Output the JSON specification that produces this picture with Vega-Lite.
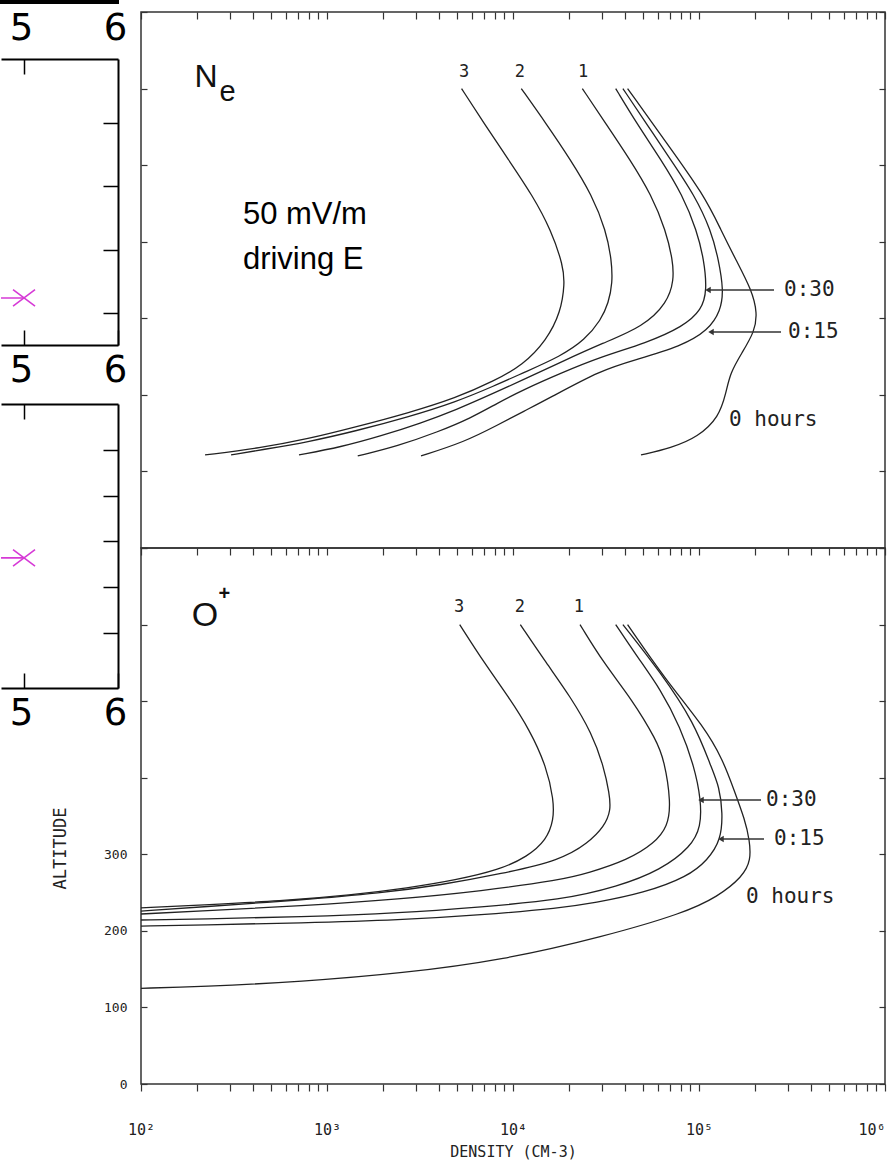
{
  "$schema": "https://vega.github.io/schema/vega-lite/v6.json",
  "padding": 0,
  "bounds": "flush",
  "spacing": 140,
  "config": {
    "font": "DejaVu Sans",
    "view": {"stroke": "#333", "strokeWidth": 1.5},
    "axis": {"grid": false, "domain": false, "tickColor": "#333", "tickWidth": 1.2, "labelFont": "DejaVu Sans Mono", "titleFont": "DejaVu Sans Mono", "labelColor": "#222", "titleColor": "#222", "titleFontWeight": "normal"}
  },
  "datasets": {
    "ne": [
      {"t": "3", "n": 5290, "alt": 600}, {"t": "3", "n": 7030, "alt": 553.6}, {"t": "3", "n": 9450, "alt": 507.2}, {"t": "3", "n": 12690, "alt": 461}, {"t": "3", "n": 16070, "alt": 414.6}, {"t": "3", "n": 18620, "alt": 368.3}, {"t": "3", "n": 18970, "alt": 345.2}, {"t": "3", "n": 18070, "alt": 308.2}, {"t": "3", "n": 15140, "alt": 271.1}, {"t": "3", "n": 11280, "alt": 238.7}, {"t": "3", "n": 7905, "alt": 218.1}, {"t": "3", "n": 4932, "alt": 195.9}, {"t": "3", "n": 2733, "alt": 176.3}, {"t": "3", "n": 1427, "alt": 158}, {"t": "3", "n": 790, "alt": 142.4}, {"t": "3", "n": 438, "alt": 130.6}, {"t": "3", "n": 221, "alt": 121.5},
      {"t": "2", "n": 11080, "alt": 600}, {"t": "2", "n": 15140, "alt": 553.6}, {"t": "2", "n": 20360, "alt": 507.2}, {"t": "2", "n": 26560, "alt": 461}, {"t": "2", "n": 31620, "alt": 414.6}, {"t": "2", "n": 33900, "alt": 376.1}, {"t": "2", "n": 34300, "alt": 346}, {"t": "2", "n": 32600, "alt": 320}, {"t": "2", "n": 29730, "alt": 297.8}, {"t": "2", "n": 24300, "alt": 271.6}, {"t": "2", "n": 18120, "alt": 250.7}, {"t": "2", "n": 11280, "alt": 228.5}, {"t": "2", "n": 7905, "alt": 211.6}, {"t": "2", "n": 4932, "alt": 190.7}, {"t": "2", "n": 2733, "alt": 171.1}, {"t": "2", "n": 1427, "alt": 152.8}, {"t": "2", "n": 790, "alt": 138.4}, {"t": "2", "n": 438, "alt": 128}, {"t": "2", "n": 305, "alt": 121.5},
      {"t": "1", "n": 23590, "alt": 600}, {"t": "1", "n": 31700, "alt": 553.6}, {"t": "1", "n": 42560, "alt": 507.2}, {"t": "1", "n": 55540, "alt": 461}, {"t": "1", "n": 66310, "alt": 414.6}, {"t": "1", "n": 72220, "alt": 376.1}, {"t": "1", "n": 73390, "alt": 350}, {"t": "1", "n": 67500, "alt": 320}, {"t": "1", "n": 50000, "alt": 289}, {"t": "1", "n": 30500, "alt": 267.7}, {"t": "1", "n": 18120, "alt": 242.9}, {"t": "1", "n": 11280, "alt": 219.4}, {"t": "1", "n": 7905, "alt": 202.4}, {"t": "1", "n": 4932, "alt": 180.2}, {"t": "1", "n": 3202, "alt": 163.2}, {"t": "1", "n": 1951, "alt": 146.3}, {"t": "1", "n": 1189, "alt": 131.9}, {"t": "1", "n": 707, "alt": 121.5},
      {"t": "0:30", "n": 35660, "alt": 600}, {"t": "0:30", "n": 46530, "alt": 553.6}, {"t": "0:30", "n": 62480, "alt": 507.2}, {"t": "0:30", "n": 81540, "alt": 461}, {"t": "0:30", "n": 97320, "alt": 414.6}, {"t": "0:30", "n": 106400, "alt": 376.1}, {"t": "0:30", "n": 110400, "alt": 336.9}, {"t": "0:30", "n": 103500, "alt": 310.8}, {"t": "0:30", "n": 82000, "alt": 289}, {"t": "0:30", "n": 52000, "alt": 267.7}, {"t": "0:30", "n": 29730, "alt": 249.8}, {"t": "0:30", "n": 18120, "alt": 228.5}, {"t": "0:30", "n": 11280, "alt": 206.3}, {"t": "0:30", "n": 8276, "alt": 189.4}, {"t": "0:30", "n": 5946, "alt": 169.8}, {"t": "0:30", "n": 3938, "alt": 151.5}, {"t": "0:30", "n": 2399, "alt": 133.2}, {"t": "0:30", "n": 1463, "alt": 120.2},
      {"t": "0:15", "n": 38980, "alt": 600}, {"t": "0:15", "n": 52340, "alt": 553.6}, {"t": "0:15", "n": 70380, "alt": 507.2}, {"t": "0:15", "n": 94470, "alt": 461}, {"t": "0:15", "n": 116200, "alt": 414.6}, {"t": "0:15", "n": 127500, "alt": 376.1}, {"t": "0:15", "n": 135500, "alt": 336.9}, {"t": "0:15", "n": 131000, "alt": 310}, {"t": "0:15", "n": 112000, "alt": 284}, {"t": "0:15", "n": 80050, "alt": 263.5}, {"t": "0:15", "n": 46000, "alt": 246}, {"t": "0:15", "n": 29730, "alt": 232.5}, {"t": "0:15", "n": 15370, "alt": 194.6}, {"t": "0:15", "n": 11500, "alt": 178.9}, {"t": "0:15", "n": 8276, "alt": 160.6}, {"t": "0:15", "n": 5473, "alt": 138.4}, {"t": "0:15", "n": 3202, "alt": 120.2},
      {"t": "0", "n": 41310, "alt": 600}, {"t": "0", "n": 66310, "alt": 530.5}, {"t": "0", "n": 106400, "alt": 461}, {"t": "0", "n": 131300, "alt": 415.3}, {"t": "0", "n": 158000, "alt": 376.1}, {"t": "0", "n": 192000, "alt": 336.9}, {"t": "0", "n": 206000, "alt": 306.9}, {"t": "0", "n": 199000, "alt": 282.5}, {"t": "0", "n": 170000, "alt": 254.7}, {"t": "0", "n": 147000, "alt": 228.5}, {"t": "0", "n": 139700, "alt": 202.4}, {"t": "0", "n": 128100, "alt": 171.1}, {"t": "0", "n": 98770, "alt": 145}, {"t": "0", "n": 70730, "alt": 130.6}, {"t": "0", "n": 48770, "alt": 121.5}
    ],
    "op": [
      {"t": "3", "n": 5170, "alt": 600}, {"t": "3", "n": 7030, "alt": 549.4}, {"t": "3", "n": 9450, "alt": 505.8}, {"t": "3", "n": 12310, "alt": 462.3}, {"t": "3", "n": 15140, "alt": 414.4}, {"t": "3", "n": 16550, "alt": 370.9}, {"t": "3", "n": 16550, "alt": 344.8}, {"t": "3", "n": 15140, "alt": 318.7}, {"t": "3", "n": 11970, "alt": 296.9}, {"t": "3", "n": 8390, "alt": 279.5}, {"t": "3", "n": 4932, "alt": 266.4}, {"t": "3", "n": 2733, "alt": 256}, {"t": "3", "n": 1346, "alt": 246.8}, {"t": "3", "n": 566, "alt": 239}, {"t": "3", "n": 210, "alt": 233.8}, {"t": "3", "n": 100, "alt": 229.9},
      {"t": "2", "n": 10950, "alt": 600}, {"t": "2", "n": 15140, "alt": 549.4}, {"t": "2", "n": 20360, "alt": 505.8}, {"t": "2", "n": 26560, "alt": 458}, {"t": "2", "n": 30770, "alt": 414.4}, {"t": "2", "n": 32940, "alt": 379.6}, {"t": "2", "n": 33650, "alt": 357.8}, {"t": "2", "n": 30960, "alt": 336}, {"t": "2", "n": 25210, "alt": 314.3}, {"t": "2", "n": 18120, "alt": 292.5}, {"t": "2", "n": 8620, "alt": 274.3}, {"t": "2", "n": 4101, "alt": 259.9}, {"t": "2", "n": 1951, "alt": 249.4}, {"t": "2", "n": 725, "alt": 240.3}, {"t": "2", "n": 210, "alt": 231.2}, {"t": "2", "n": 100, "alt": 225.9},
      {"t": "1", "n": 22920, "alt": 600}, {"t": "1", "n": 30770, "alt": 549.4}, {"t": "1", "n": 43840, "alt": 501.5}, {"t": "1", "n": 58950, "alt": 449.3}, {"t": "1", "n": 65070, "alt": 423.1}, {"t": "1", "n": 70730, "alt": 367}, {"t": "1", "n": 67880, "alt": 336}, {"t": "1", "n": 57510, "alt": 314.3}, {"t": "1", "n": 41370, "alt": 292.5}, {"t": "1", "n": 25210, "alt": 275.2}, {"t": "1", "n": 18120, "alt": 266.4}, {"t": "1", "n": 6730, "alt": 252}, {"t": "1", "n": 2499, "alt": 241.6}, {"t": "1", "n": 725, "alt": 232.5}, {"t": "1", "n": 210, "alt": 225.9}, {"t": "1", "n": 100, "alt": 222},
      {"t": "0:30", "n": 35660, "alt": 600}, {"t": "0:30", "n": 46530, "alt": 558}, {"t": "0:30", "n": 62480, "alt": 514.6}, {"t": "0:30", "n": 79060, "alt": 466.6}, {"t": "0:30", "n": 94470, "alt": 414.4}, {"t": "0:30", "n": 102500, "alt": 370.9}, {"t": "0:30", "n": 102500, "alt": 336}, {"t": "0:30", "n": 90580, "alt": 309.9}, {"t": "0:30", "n": 62480, "alt": 279.5}, {"t": "0:30", "n": 36550, "alt": 257.7}, {"t": "0:30", "n": 18120, "alt": 240.3}, {"t": "0:30", "n": 6730, "alt": 231.2}, {"t": "0:30", "n": 2499, "alt": 223.3}, {"t": "0:30", "n": 725, "alt": 218.1}, {"t": "0:30", "n": 210, "alt": 215.5}, {"t": "0:30", "n": 100, "alt": 214.2},
      {"t": "0:15", "n": 38980, "alt": 600}, {"t": "0:15", "n": 62480, "alt": 536.8}, {"t": "0:15", "n": 94470, "alt": 471.5}, {"t": "0:15", "n": 116000, "alt": 414.4}, {"t": "0:15", "n": 128600, "alt": 388.3}, {"t": "0:15", "n": 134100, "alt": 353.9}, {"t": "0:15", "n": 131300, "alt": 318.7}, {"t": "0:15", "n": 111400, "alt": 292.5}, {"t": "0:15", "n": 86960, "alt": 270.7}, {"t": "0:15", "n": 50620, "alt": 249.4}, {"t": "0:15", "n": 27260, "alt": 236.4}, {"t": "0:15", "n": 18120, "alt": 229.9}, {"t": "0:15", "n": 6730, "alt": 220.7}, {"t": "0:15", "n": 2499, "alt": 214.2}, {"t": "0:15", "n": 725, "alt": 210.3}, {"t": "0:15", "n": 210, "alt": 207.7}, {"t": "0:15", "n": 100, "alt": 206.3},
      {"t": "0", "n": 41310, "alt": 600}, {"t": "0", "n": 66310, "alt": 527.6}, {"t": "0", "n": 106400, "alt": 466.6}, {"t": "0", "n": 134600, "alt": 423.1}, {"t": "0", "n": 154200, "alt": 384}, {"t": "0", "n": 176700, "alt": 344.8}, {"t": "0", "n": 186900, "alt": 318.7}, {"t": "0", "n": 190400, "alt": 292.5}, {"t": "0", "n": 171800, "alt": 270.7}, {"t": "0", "n": 126100, "alt": 244.6}, {"t": "0", "n": 83080, "alt": 223.3}, {"t": "0", "n": 30660, "alt": 192.4}, {"t": "0", "n": 8835, "alt": 161.9}, {"t": "0", "n": 2546, "alt": 144.6}, {"t": "0", "n": 734, "alt": 133.6}, {"t": "0", "n": 211, "alt": 127.1}, {"t": "0", "n": 100, "alt": 125}
    ],
    "nums": [
      {"p": "ne", "s": "3", "n": 5455, "alt": 621.6}, {"p": "ne", "s": "2", "n": 10900, "alt": 621.6}, {"p": "ne", "s": "1", "n": 23790, "alt": 621.6},
      {"p": "op", "s": "3", "n": 5125, "alt": 623}, {"p": "op", "s": "2", "n": 10900, "alt": 623}, {"p": "op", "s": "1", "n": 22630, "alt": 623}
    ],
    "tags": [
      {"p": "ne", "s": "0:30", "n": 286400, "alt": 336.9}, {"p": "ne", "s": "0:15", "n": 301000, "alt": 282.1}, {"p": "ne", "s": "0 hours", "n": 145000, "alt": 167.2},
      {"p": "op", "s": "0:30", "n": 229200, "alt": 370.9}, {"p": "op", "s": "0:15", "n": 253100, "alt": 320}, {"p": "op", "s": "0 hours", "n": 178900, "alt": 244.2}
    ],
    "arrows": [
      {"p": "ne", "n1": 111800, "n2": 253100, "alt": 336.9}, {"p": "ne", "n1": 116000, "n2": 276000, "alt": 282.1},
      {"p": "op", "n1": 102500, "n2": 215400, "alt": 370.9}, {"p": "op", "n1": 131300, "n2": 223700, "alt": 320}
    ],
    "sp": [
      {"p": "ne", "k": "main", "s": "N", "n": 224, "alt": 615}, {"p": "ne", "k": "sub", "s": "e", "n": 292, "alt": 595.5},
      {"p": "op", "k": "main", "s": "O", "n": 221, "alt": 611}, {"p": "op", "k": "sub", "s": "+", "n": 281, "alt": 640}
    ],
    "note": [
      {"s": "50 mV/m", "n": 353, "alt": 423}, {"s": "driving E", "n": 353, "alt": 364.4}
    ],
    "mag": [
      {"p": 1, "x0": 4, "x": 5, "y": 1.24}, {"p": 2, "x0": 4, "x": 5, "y": 2.64}
    ]
  },
  "hconcat": [
    {
      "bounds": "flush",
      "spacing": 56,
      "vconcat": [
        {
          "width": 117, "height": 2,
          "view": {"stroke": "black", "strokeWidth": 2},
          "data": {"name": "mag"},
          "transform": [{"filter": "datum.p == 1"}],
          "mark": {"type": "point", "opacity": 0, "size": 0, "strokeWidth": 0},
          "encoding": {
            "x": {"field": "x", "type": "quantitative", "scale": {"domain": [4.755, 6], "nice": false, "zero": false}, "axis": {"orient": "bottom", "values": [5, 6], "format": ".0f", "ticks": false, "labelFontSize": 37, "labelPadding": 7, "labelFont": "DejaVu Sans", "labelColor": "black", "labelFlush": false, "labelOffset": -3, "title": null, "domain": false}},
            "y": {"field": "y", "type": "quantitative", "scale": {"domain": [0.5, 5], "nice": false, "zero": false}, "axis": null}
          }
        },
        {
          "bounds": "flush",
          "spacing": 59,
          "vconcat": [
            {
              "width": 117, "height": 286,
              "view": {"stroke": null},
              "data": {"name": "mag"},
              "transform": [{"filter": "datum.p == 1"}],
              "layer": [
                {
                  "mark": {"type": "rule", "color": "#d63ad6", "strokeWidth": 1.6, "clip": true},
                  "encoding": {
                    "x": {"field": "x0", "type": "quantitative", "scale": {"domain": [4.755, 6], "nice": false, "zero": false}, "axis": {"orient": "bottom", "values": [5, 6], "format": ".0f", "tickSize": -15, "labelFontSize": 37, "labelPadding": 22, "labelFont": "DejaVu Sans", "labelColor": "black", "labelFlush": false, "labelOffset": -3, "title": null, "domain": true, "domainColor": "black", "domainWidth": 2, "tickColor": "black", "tickWidth": 1.5}},
                    "x2": {"field": "x"},
                    "y": {"field": "y", "type": "quantitative", "scale": {"domain": [0.5, 5], "nice": false, "zero": false}, "axis": {"orient": "right", "values": [1, 2, 3, 4], "tickSize": -15, "labels": false, "title": null, "domain": true, "domainColor": "black", "domainWidth": 2, "tickColor": "black", "tickWidth": 1.5}}
                  }
                },
                {
                  "mark": {"type": "point", "shape": "M-1,-0.75L1,0.75M-1,0.75L1,-0.75", "color": "#d63ad6", "strokeWidth": 1.6, "size": 484, "filled": false, "opacity": 1},
                  "encoding": {
                    "x": {"field": "x", "type": "quantitative", "scale": {"domain": [4.755, 6], "nice": false, "zero": false}, "axis": {"orient": "top", "values": [5], "tickSize": -15, "labels": false, "title": null, "domain": true, "domainColor": "black", "domainWidth": 2, "tickColor": "black", "tickWidth": 1.5}},
                    "y": {"field": "y", "type": "quantitative", "scale": {"domain": [0.5, 5], "nice": false, "zero": false}, "axis": null}
                  }
                }
              ],
              "resolve": {"axis": {"x": "independent", "y": "independent"}}
            },
            {
              "width": 117, "height": 284,
              "view": {"stroke": null},
              "data": {"name": "mag"},
              "transform": [{"filter": "datum.p == 2"}],
              "layer": [
                {
                  "mark": {"type": "rule", "color": "#d63ad6", "strokeWidth": 1.6, "clip": true},
                  "encoding": {
                    "x": {"field": "x0", "type": "quantitative", "scale": {"domain": [4.755, 6], "nice": false, "zero": false}, "axis": {"orient": "bottom", "values": [5, 6], "format": ".0f", "tickSize": -15, "labelFontSize": 37, "labelPadding": 22, "labelFont": "DejaVu Sans", "labelColor": "black", "labelFlush": false, "labelOffset": -3, "title": null, "domain": true, "domainColor": "black", "domainWidth": 2, "tickColor": "black", "tickWidth": 1.5}},
                    "x2": {"field": "x"},
                    "y": {"field": "y", "type": "quantitative", "scale": {"domain": [-0.2, 6], "nice": false, "zero": false}, "axis": {"orient": "right", "values": [1, 2, 3, 4, 5], "tickSize": -15, "labels": false, "title": null, "domain": true, "domainColor": "black", "domainWidth": 2, "tickColor": "black", "tickWidth": 1.5}}
                  }
                },
                {
                  "mark": {"type": "point", "shape": "M-1,-0.75L1,0.75M-1,0.75L1,-0.75", "color": "#d63ad6", "strokeWidth": 1.6, "size": 484, "filled": false, "opacity": 1},
                  "encoding": {
                    "x": {"field": "x", "type": "quantitative", "scale": {"domain": [4.755, 6], "nice": false, "zero": false}, "axis": {"orient": "top", "values": [5], "tickSize": -15, "labels": false, "title": null, "domain": true, "domainColor": "black", "domainWidth": 2, "tickColor": "black", "tickWidth": 1.5}},
                    "y": {"field": "y", "type": "quantitative", "scale": {"domain": [-0.2, 6], "nice": false, "zero": false}, "axis": null}
                  }
                }
              ],
              "resolve": {"axis": {"x": "independent", "y": "independent"}}
            }
          ]
        }
      ]
    },
    {
      "bounds": "flush",
      "spacing": 0,
      "vconcat": [
        {
          "width": 744, "height": 11,
          "view": {"stroke": null},
          "data": {"name": "mag"},
          "mark": {"type": "point", "opacity": 0, "size": 0, "strokeWidth": 0},
          "encoding": {
            "x": {"field": "x", "type": "quantitative", "scale": {"domain": [4.755, 6], "nice": false, "zero": false}, "axis": null},
            "y": {"field": "y", "type": "quantitative", "scale": {"domain": [-10, 10], "nice": false, "zero": false}, "axis": null}
          }
        },
        {
          "bounds": "flush",
          "spacing": 0,
          "vconcat": [
            {
              "width": 744, "height": 536,
              "layer": [
                {
                  "data": {"name": "ne"},
                  "mark": {"type": "line", "stroke": "#222", "strokeWidth": 1.3, "interpolate": "basis"},
                  "encoding": {
                    "x": {"field": "n", "type": "quantitative", "scale": {"type": "log", "domain": [100, 1000000], "nice": false}, "axis": {"orient": "top", "values": [100,200,300,400,500,600,700,800,900,1000,2000,3000,4000,5000,6000,7000,8000,9000,10000,20000,30000,40000,50000,60000,70000,80000,90000,100000,200000,300000,400000,500000,600000,700000,800000,900000,1000000], "labels": false, "tickSize": -7, "title": null}},
                    "y": {"field": "alt", "type": "quantitative", "scale": {"domain": [0, 700], "nice": false}, "axis": {"orient": "left", "values": [0,100,200,300,400,500,600,700], "labels": false, "tickSize": -6, "title": null}},
                    "detail": {"field": "t"},
                    "order": {"value": null}
                  }
                },
                {
                  "data": {"name": "tags"},
                  "transform": [{"filter": "datum.p == 'ne'"}],
                  "mark": {"type": "text", "align": "left", "baseline": "middle", "font": "DejaVu Sans Mono", "fontSize": 21, "fill": "#222"},
                  "encoding": {
                    "x": {"field": "n", "type": "quantitative", "scale": {"type": "log", "domain": [100, 1000000], "nice": false}, "axis": null},
                    "y": {"field": "alt", "type": "quantitative", "scale": {"domain": [0, 700], "nice": false}, "axis": {"orient": "right", "values": [0,100,200,300,400,500,600,700], "labels": false, "tickSize": -6, "title": null}},
                    "text": {"field": "s"}
                  }
                },
                {
                  "data": {"name": "arrows"},
                  "transform": [{"filter": "datum.p == 'ne'"}],
                  "mark": {"type": "rule", "stroke": "#333", "strokeWidth": 1.4},
                  "encoding": {
                    "x": {"field": "n1", "type": "quantitative", "scale": {"type": "log", "domain": [100, 1000000], "nice": false}, "axis": null},
                    "x2": {"field": "n2"},
                    "y": {"field": "alt", "type": "quantitative", "scale": {"domain": [0, 700], "nice": false}, "axis": null}
                  }
                },
                {
                  "data": {"name": "arrows"},
                  "transform": [{"filter": "datum.p == 'ne'"}],
                  "mark": {"type": "point", "shape": "triangle-left", "filled": true, "color": "#333", "size": 40, "opacity": 1},
                  "encoding": {
                    "x": {"field": "n1", "type": "quantitative", "scale": {"type": "log", "domain": [100, 1000000], "nice": false}, "axis": null},
                    "y": {"field": "alt", "type": "quantitative", "scale": {"domain": [0, 700], "nice": false}, "axis": null}
                  }
                },
                {
                  "data": {"name": "nums"},
                  "transform": [{"filter": "datum.p == 'ne'"}],
                  "mark": {"type": "text", "font": "DejaVu Sans Mono", "fontSize": 17, "fill": "#222", "baseline": "middle"},
                  "encoding": {
                    "x": {"field": "n", "type": "quantitative", "scale": {"type": "log", "domain": [100, 1000000], "nice": false}, "axis": null},
                    "y": {"field": "alt", "type": "quantitative", "scale": {"domain": [0, 700], "nice": false}, "axis": null},
                    "text": {"field": "s"}
                  }
                },
                {
                  "data": {"name": "sp"},
                  "transform": [{"filter": "datum.p == 'ne' && datum.k == 'main'"}],
                  "mark": {"type": "text", "font": "Liberation Sans", "fontSize": 32, "fill": "#111", "baseline": "middle"},
                  "encoding": {
                    "x": {"field": "n", "type": "quantitative", "scale": {"type": "log", "domain": [100, 1000000], "nice": false}, "axis": null},
                    "y": {"field": "alt", "type": "quantitative", "scale": {"domain": [0, 700], "nice": false}, "axis": null},
                    "text": {"field": "s"}
                  }
                },
                {
                  "data": {"name": "sp"},
                  "transform": [{"filter": "datum.p == 'ne' && datum.k == 'sub'"}],
                  "mark": {"type": "text", "font": "Liberation Sans", "fontSize": 29, "fill": "#111", "baseline": "middle"},
                  "encoding": {
                    "x": {"field": "n", "type": "quantitative", "scale": {"type": "log", "domain": [100, 1000000], "nice": false}, "axis": null},
                    "y": {"field": "alt", "type": "quantitative", "scale": {"domain": [0, 700], "nice": false}, "axis": null},
                    "text": {"field": "s"}
                  }
                },
                {
                  "data": {"name": "note"},
                  "mark": {"type": "text", "font": "Liberation Sans", "fontSize": 31, "fill": "black", "align": "left", "baseline": "alphabetic"},
                  "encoding": {
                    "x": {"field": "n", "type": "quantitative", "scale": {"type": "log", "domain": [100, 1000000], "nice": false}, "axis": null},
                    "y": {"field": "alt", "type": "quantitative", "scale": {"domain": [0, 700], "nice": false}, "axis": null},
                    "text": {"field": "s"}
                  }
                }
              ],
              "resolve": {"axis": {"x": "independent", "y": "independent"}}
            },
            {
              "width": 744, "height": 536,
              "layer": [
                {
                  "data": {"name": "op"},
                  "mark": {"type": "line", "stroke": "#222", "strokeWidth": 1.3, "interpolate": "basis"},
                  "encoding": {
                    "x": {"field": "n", "type": "quantitative", "scale": {"type": "log", "domain": [100, 1000000], "nice": false}, "axis": {"orient": "top", "values": [100,200,300,400,500,600,700,800,900,1000,2000,3000,4000,5000,6000,7000,8000,9000,10000,20000,30000,40000,50000,60000,70000,80000,90000,100000,200000,300000,400000,500000,600000,700000,800000,900000,1000000], "labels": false, "tickSize": -7, "title": null}},
                    "y": {"field": "alt", "type": "quantitative", "scale": {"domain": [0, 700], "nice": false}, "axis": {"orient": "left", "values": [0,100,200,300,400,500,600,700], "labelExpr": "datum.value <= 300 ? datum.label : ''", "tickSize": -6, "labelPadding": 20, "labelFontSize": 13, "title": "ALTITUDE", "titleFontSize": 17, "titleX": -72, "titleY": 300}},
                    "detail": {"field": "t"},
                    "order": {"value": null}
                  }
                },
                {
                  "data": {"name": "tags"},
                  "transform": [{"filter": "datum.p == 'op'"}],
                  "mark": {"type": "text", "align": "left", "baseline": "middle", "font": "DejaVu Sans Mono", "fontSize": 21, "fill": "#222"},
                  "encoding": {
                    "x": {"field": "n", "type": "quantitative", "scale": {"type": "log", "domain": [100, 1000000], "nice": false}, "axis": {"orient": "bottom", "values": [100,200,300,400,500,600,700,800,900,1000,2000,3000,4000,5000,6000,7000,8000,9000,10000,20000,30000,40000,50000,60000,70000,80000,90000,100000,200000,300000,400000,500000,600000,700000,800000,900000,1000000], "labelExpr": "datum.value == 100 ? '10²' : datum.value == 1000 ? '10³' : datum.value == 10000 ? '10⁴' : datum.value == 100000 ? '10⁵' : datum.value == 1000000 ? '10⁶' : ''", "labelAlign": {"condition": {"test": "datum.value == 1000000", "value": "right"}, "value": "center"}, "tickSize": 7, "labelPadding": 31, "labelFontSize": 15, "labelOverlap": false, "labelFlush": false, "title": "DENSITY (CM-3)", "titleFontSize": 15, "titlePadding": 7}},
                    "y": {"field": "alt", "type": "quantitative", "scale": {"domain": [0, 700], "nice": false}, "axis": {"orient": "right", "values": [0,100,200,300,400,500,600,700], "labels": false, "tickSize": -6, "title": null}},
                    "text": {"field": "s"}
                  }
                },
                {
                  "data": {"name": "arrows"},
                  "transform": [{"filter": "datum.p == 'op'"}],
                  "mark": {"type": "rule", "stroke": "#333", "strokeWidth": 1.4},
                  "encoding": {
                    "x": {"field": "n1", "type": "quantitative", "scale": {"type": "log", "domain": [100, 1000000], "nice": false}, "axis": null},
                    "x2": {"field": "n2"},
                    "y": {"field": "alt", "type": "quantitative", "scale": {"domain": [0, 700], "nice": false}, "axis": null}
                  }
                },
                {
                  "data": {"name": "arrows"},
                  "transform": [{"filter": "datum.p == 'op'"}],
                  "mark": {"type": "point", "shape": "triangle-left", "filled": true, "color": "#333", "size": 40, "opacity": 1},
                  "encoding": {
                    "x": {"field": "n1", "type": "quantitative", "scale": {"type": "log", "domain": [100, 1000000], "nice": false}, "axis": null},
                    "y": {"field": "alt", "type": "quantitative", "scale": {"domain": [0, 700], "nice": false}, "axis": null}
                  }
                },
                {
                  "data": {"name": "nums"},
                  "transform": [{"filter": "datum.p == 'op'"}],
                  "mark": {"type": "text", "font": "DejaVu Sans Mono", "fontSize": 17, "fill": "#222", "baseline": "middle"},
                  "encoding": {
                    "x": {"field": "n", "type": "quantitative", "scale": {"type": "log", "domain": [100, 1000000], "nice": false}, "axis": null},
                    "y": {"field": "alt", "type": "quantitative", "scale": {"domain": [0, 700], "nice": false}, "axis": null},
                    "text": {"field": "s"}
                  }
                },
                {
                  "data": {"name": "sp"},
                  "transform": [{"filter": "datum.p == 'op' && datum.k == 'main'"}],
                  "mark": {"type": "text", "font": "Liberation Sans", "fontSize": 34, "fill": "#111", "baseline": "middle"},
                  "encoding": {
                    "x": {"field": "n", "type": "quantitative", "scale": {"type": "log", "domain": [100, 1000000], "nice": false}, "axis": null},
                    "y": {"field": "alt", "type": "quantitative", "scale": {"domain": [0, 700], "nice": false}, "axis": null},
                    "text": {"field": "s"}
                  }
                },
                {
                  "data": {"name": "sp"},
                  "transform": [{"filter": "datum.p == 'op' && datum.k == 'sub'"}],
                  "mark": {"type": "text", "font": "Liberation Sans", "fontSize": 20, "fill": "#111", "baseline": "middle", "fontWeight": "bold"},
                  "encoding": {
                    "x": {"field": "n", "type": "quantitative", "scale": {"type": "log", "domain": [100, 1000000], "nice": false}, "axis": null},
                    "y": {"field": "alt", "type": "quantitative", "scale": {"domain": [0, 700], "nice": false}, "axis": null},
                    "text": {"field": "s"}
                  }
                }
              ],
              "resolve": {"axis": {"x": "independent", "y": "independent"}}
            }
          ]
        }
      ]
    }
  ]
}
